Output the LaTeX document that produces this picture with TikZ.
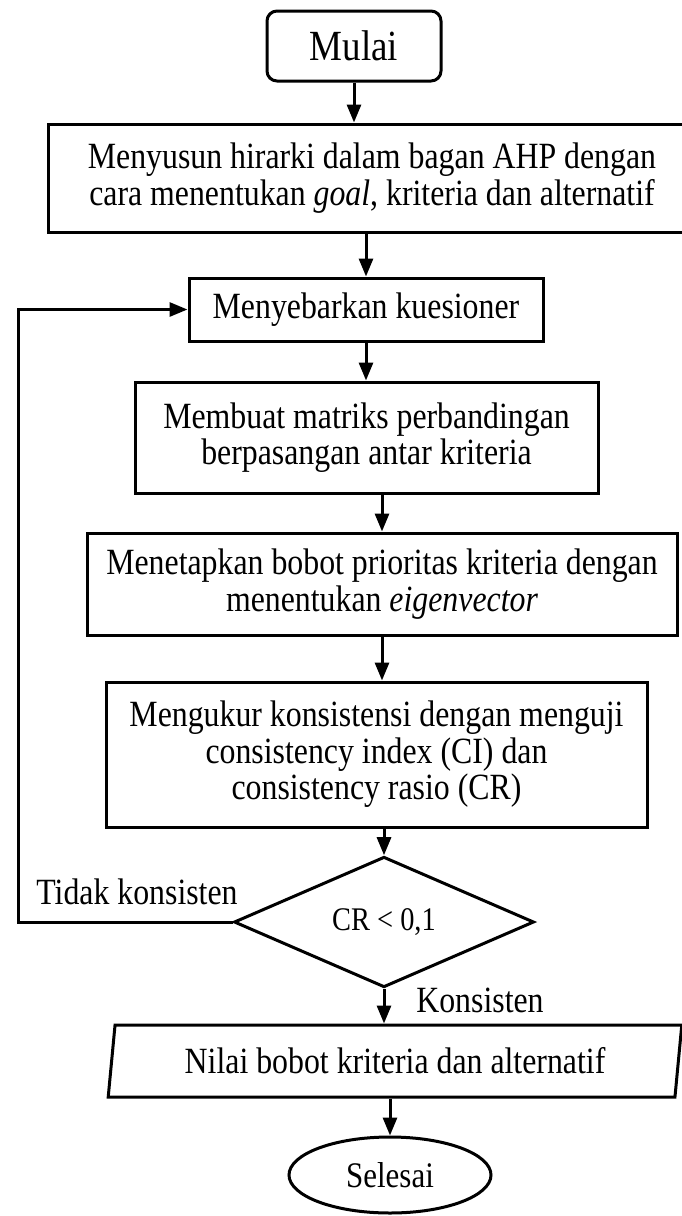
\documentclass[tikz,border=0pt]{standalone}
\usepackage{fontspec}
\setmainfont{Liberation Serif}[FakeStretch=0.86]
\usetikzlibrary{
  positioning,
  shapes.geometric,
  arrows.meta,
}
\tikzset{
  >={Triangle[length=18pt,width=14pt]},
  flow/.style={
    ->,
    line width=3pt,
  },
  block/.style={
    draw,
    line width=3pt,
    align=center,
    inner sep=0pt,
    font=\fontsize{37}{36.5}\selectfont,
  },
  process/.style={
    block,
    rectangle,
  },
  startbox/.style={
    block,
    rectangle,
    rounded corners=10pt,
    font=\fontsize{43}{44}\selectfont,
  },
  decision/.style={
    block,
    diamond,
    font=\fontsize{33}{34}\selectfont,
  },
  iobox/.style={
    block,
    trapezium,
    trapezium left angle=79,
    trapezium right angle=101,
    trapezium stretches=true,
  },
  terminal/.style={
    block,
    ellipse,
    font=\fontsize{36}{38}\selectfont,
  },
  note/.style={
    font=\fontsize{37}{38}\selectfont,
  },
}

\begin{document}
\begin{tikzpicture}[x=1pt, y=-1pt]
  \useasboundingbox (0,0) rectangle (681,1216);

  \node[startbox, minimum width=174pt, minimum height=70pt] (mulai) at (354,46) {Mulai};
  \node[process, minimum width=648pt, minimum height=108pt] (hirarki) at (372,178)
    {Menyusun hirarki dalam bagan AHP dengan\\cara menentukan \textit{goal}, kriteria dan alternatif};
  \node[process, minimum width=354pt, minimum height=63pt] (kuesioner) at (366,309.5)
    {Menyebarkan kuesioner};
  \node[process, minimum width=463pt, minimum height=111pt] (matriks) at (366.5,437.5)
    {Membuat matriks perbandingan\\berpasangan antar kriteria};
  \node[process, minimum width=590pt, minimum height=102pt] (bobot) at (382,584)
    {Menetapkan bobot prioritas kriteria dengan\\menentukan \textit{eigenvector}};
  \node[process, minimum width=541pt, minimum height=145pt] (ukur) at (376.5,754.5)
    {Mengukur konsistensi dengan menguji\\consistency index (CI) dan\\consistency rasio (CR)};
  \node[decision, minimum width=300pt, minimum height=110pt] (cr) at (384,922) {CR < 0,1};
  \node[iobox, minimum width=574pt, minimum height=72pt] (nilai) at (395,1061)
    {Nilai bobot kriteria dan alternatif};
  \node[terminal, minimum width=202pt, minimum height=76pt] (selesai) at (390,1175) {Selesai};

  \node[note] (tidak) at (137,892) {Tidak konsisten};
  \node[note] (konsisten) at (480,1000) {Konsisten};
  \coordinate (balik) at (18,922);

  % alur utama
  \draw[flow] (mulai.south) -- (mulai.south |- hirarki.north);
  \draw[flow] (kuesioner.north |- hirarki.south) -- (kuesioner.north);
  \draw[flow] (kuesioner.south) -- (kuesioner.south |- matriks.north);
  \draw[flow] (bobot.north |- matriks.south) -- (bobot.north);
  \draw[flow] (bobot.south) -- (bobot.south |- ukur.north);
  \draw[flow] (cr.north |- ukur.south) -- (cr.north);
  \draw[flow] (cr.south) -- (cr.south |- nilai.north);
  \draw[flow] (selesai.north |- nilai.south) -- (selesai.north);

  % kembali jika tidak konsisten
  \draw[flow] (cr.west) -- (balik) |- (kuesioner.west);
\end{tikzpicture}
\end{document}
